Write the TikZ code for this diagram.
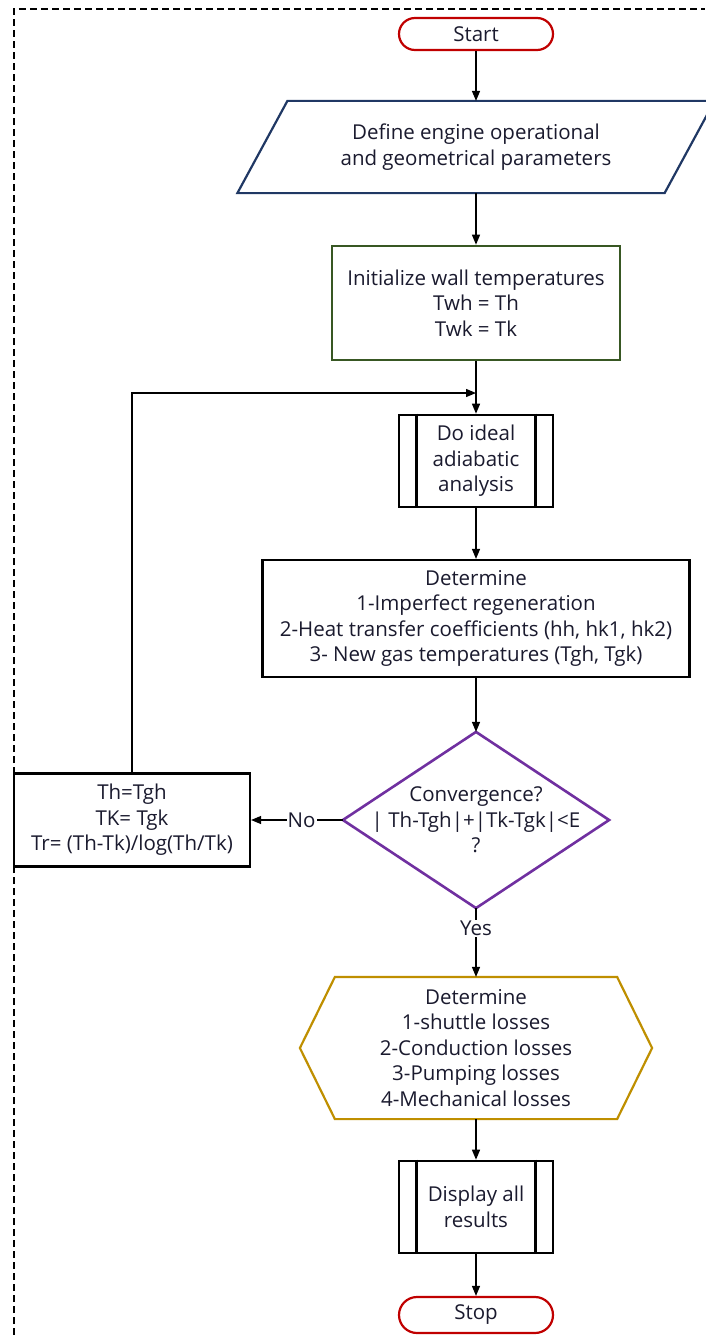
\documentclass[tikz,border=0pt]{standalone}
\usepackage{fontspec}
\setmainfont{Open Sans}
\usetikzlibrary{shapes.misc,arrows.meta,calc}
\definecolor{termred}{HTML}{C00000}
\definecolor{navy}{HTML}{203864}
\definecolor{dgreen}{HTML}{385723}
\definecolor{purp}{HTML}{7030A0}
\definecolor{gold}{HTML}{BF8F00}
\definecolor{txt}{HTML}{1A1A2E}
\newcommand{\fsz}{\fontsize{20.5}{25.5}\selectfont}
\begin{document}
\begin{tikzpicture}[x=1pt,y=-1pt,
  every node/.style={text=txt, font=\fsz},
  box/.style={align=center, inner sep=0pt, line width=2.2pt},
  term/.style={rounded rectangle, draw=termred, line width=2.2pt, minimum width=154pt, inner sep=0pt},
  sub/.style={box, draw=black, line width=2.6pt, minimum width=154pt, minimum height=92pt},
  arr/.style={-{Triangle[length=10pt,width=8pt]}, line width=1.3pt},
  lbl/.style={fill=white, inner sep=1pt}
]
\useasboundingbox (0,0) rectangle (705,1335);
\draw[dash pattern=on 7pt off 4pt, line width=1.2pt] (14,1335) -- (14,9) -- (705,9);

\node[term, minimum height=32pt] (start) at (476,34) {Start};

\node[box, minimum width=475pt, minimum height=90pt] (define) at (476,147) {Define engine operational\\and geometrical parameters};
\draw[navy, line width=2.2pt] ($(define.north west)+(50,0)$) -- (define.north east) -- ($(define.south east)-(50,0)$) -- (define.south west) -- cycle;

\node[box, draw=dgreen, line width=2.6pt, minimum width=288pt, minimum height=114pt] (init) at (476,303) {Initialize wall temperatures\\Twh = Th\\Twk = Tk};

\node[sub] (sub1) at (476,461) {Do ideal\\adiabatic\\analysis};
\draw[line width=2.6pt] ($(sub1.north west)+(19,0)$) -- ($(sub1.south west)+(19,0)$);
\draw[line width=2.6pt] ($(sub1.north east)-(19,0)$) -- ($(sub1.south east)-(19,0)$);

\node[box, draw=black, minimum width=427pt, minimum height=117pt] (det1) at (476,618.5) {Determine\\1-Imperfect regeneration\\2-Heat transfer coefficients (hh, hk1, hk2)\\3- New gas temperatures (Tgh, Tgk)};

\node[box, minimum width=264pt, minimum height=174pt] (conv) at (476,820) {Convergence?\\| Th-Tgh|+|Tk-Tgk|<E\\?};
\draw[purp, line width=2.6pt] (conv.north) -- (conv.east) -- (conv.south) -- (conv.west) -- cycle;

\node[box, draw=black, minimum width=236pt, minimum height=93pt] (upd) at (132,820) {Th=Tgh\\TK= Tgk\\Tr= (Th-Tk)/log(Th/Tk)};

\node[box, minimum width=350pt, minimum height=140pt] (det2) at (476,1048) {Determine\\1-shuttle losses\\2-Conduction losses\\3-Pumping losses\\4-Mechanical losses};
\draw[gold, line width=2.2pt] ($(det2.north west)+(35,0)$) -- ($(det2.north east)-(35,0)$) -- (det2.east) -- ($(det2.south east)-(35,0)$) -- ($(det2.south west)+(35,0)$) -- (det2.west) -- cycle;

\node[sub] (sub2) at (476,1207) {Display all\\results};
\draw[line width=2.6pt] ($(sub2.north west)+(19,0)$) -- ($(sub2.south west)+(19,0)$);
\draw[line width=2.6pt] ($(sub2.north east)-(19,0)$) -- ($(sub2.south east)-(19,0)$);

\node[term, minimum height=36pt] (stop) at (476,1315) {Stop};

\coordinate (join) at (476,393);
\draw[arr] (start.south) -- (define.north);
\draw[arr] (define.south) -- (init.north);
\draw[arr] (init.south) -- (sub1.north);
\draw[arr] (upd.north) |- (join);
\draw[arr] (sub1.south) -- (det1.north);
\draw[arr] (det1.south) -- (conv.north);
\draw[arr] (conv.west) -- node[lbl, pos=0.45]{No} (upd.east);
\draw[arr] (conv.south) -- node[lbl, pos=0.3]{Yes} (det2.north);
\draw[arr] (det2.south) -- (sub2.north);
\draw[arr] (sub2.south) -- (stop.north);
\end{tikzpicture}
\end{document}
